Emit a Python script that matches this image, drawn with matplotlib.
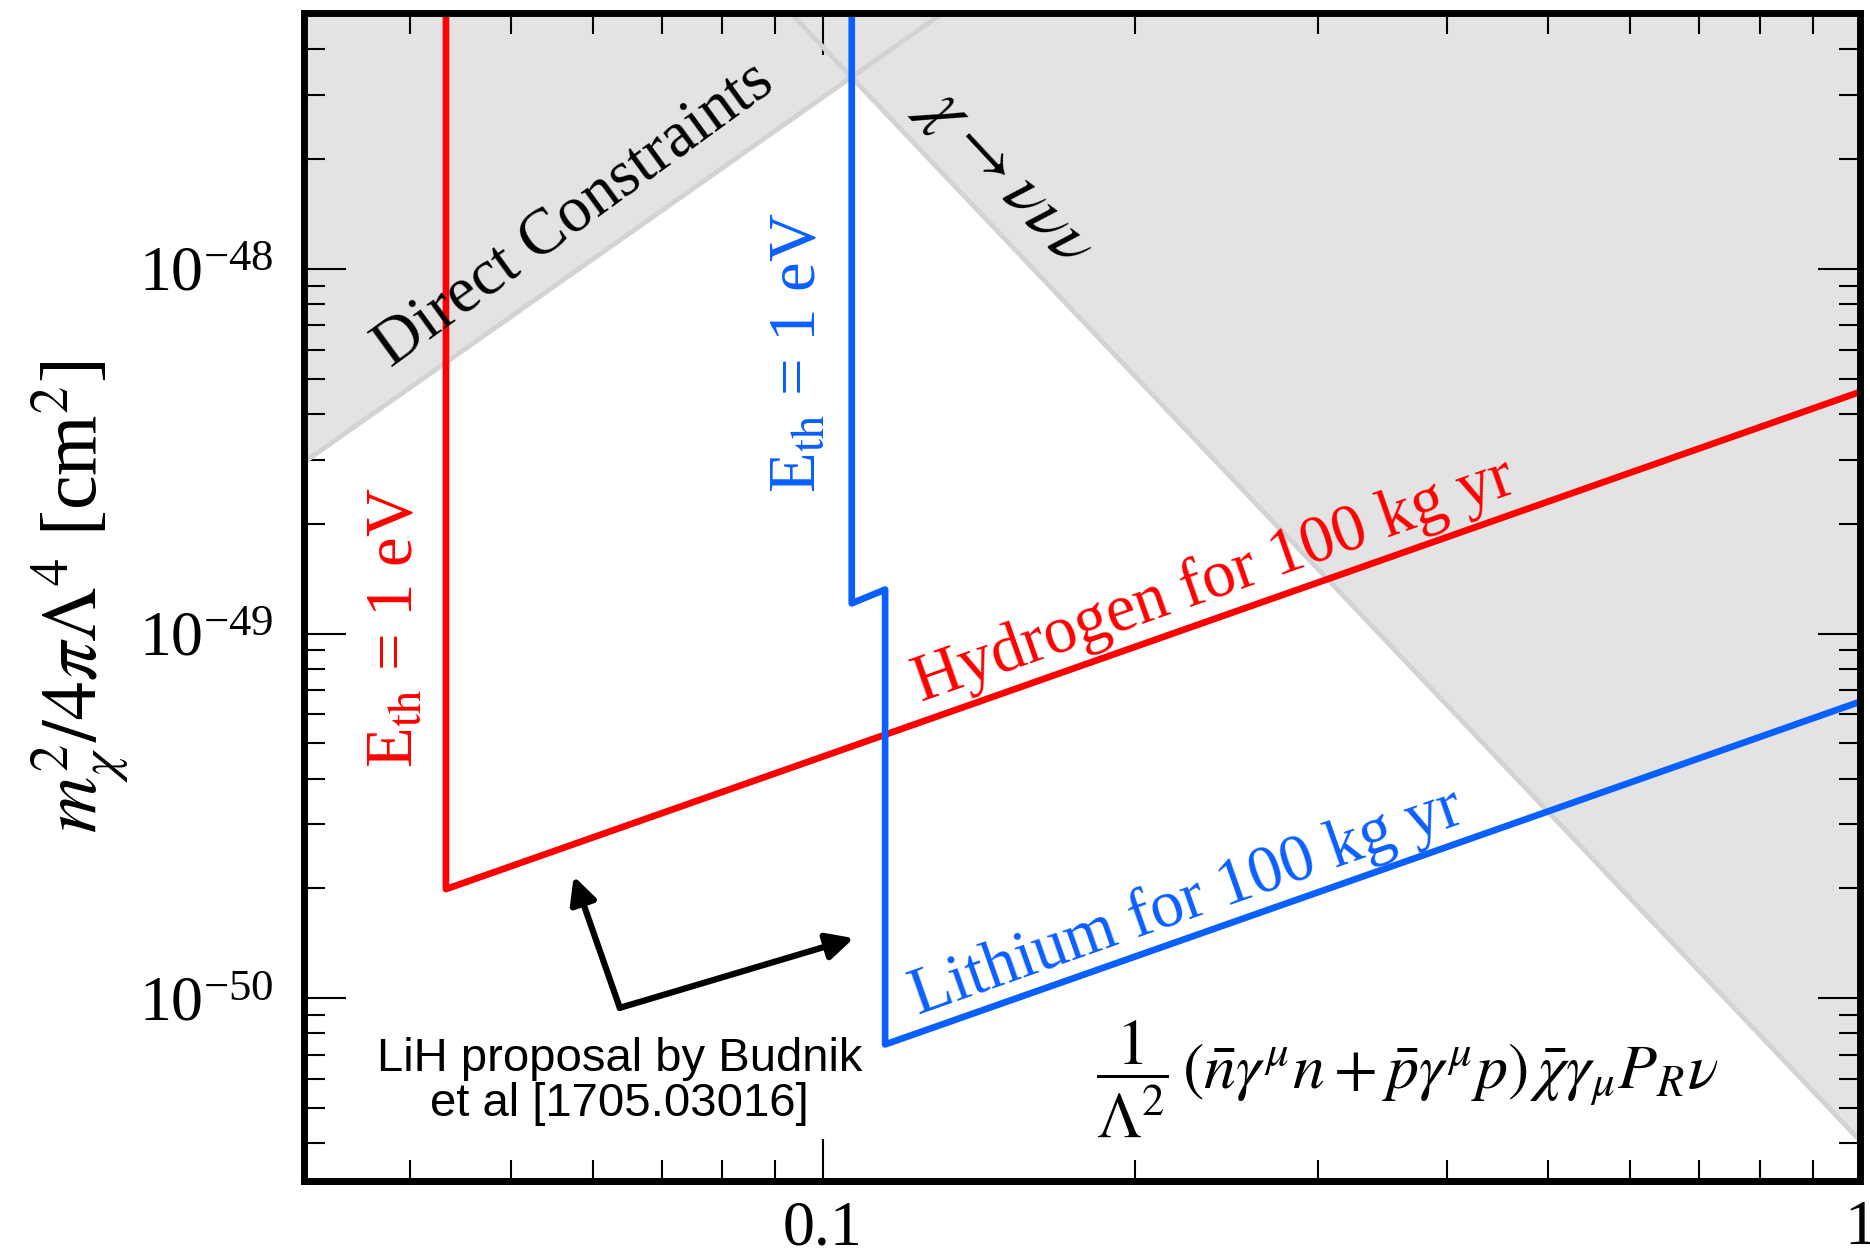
#!/usr/bin/env python3

import matplotlib
matplotlib.use('Agg')
import matplotlib.pyplot as plt
import matplotlib.ticker as mticker

plt.rcParams['font.family'] = ['Liberation Serif', 'DejaVu Serif']
plt.rcParams['mathtext.fontset'] = 'stix'

RED = '#ff0000'
BLUE = '#0a5fff'
GRAY_FILL = '#e3e3e3'
GRAY_EDGE = '#d3d3d3'

# hydrogen reach (100 kg yr, E_th = 1 eV)
h_x = [0.0433, 0.0433, 1.0]
h_y = [1e-47, 1.99e-50, 4.6e-49]

# lithium reach (100 kg yr, E_th = 1 eV)
li_x = [0.1066, 0.1066, 0.1148, 0.1148, 1.0]
li_y = [1e-47, 1.21e-49, 1.32e-49, 7.46e-51, 6.5e-50]

# direct constraints boundary
dc_x = [0.0316, 0.14]
dc_y = [2.95e-49, 5.8e-48]

# chi -> nu nu nu boundary
dec_x = [0.09, 1.0]
dec_y = [5.57e-48, 4.06e-51]

XLIM = (0.0316, 1.0)
YLIM = (3.15e-51, 5.05e-48)

fig = plt.figure(figsize=(18.7, 12.57), dpi=100)
ax = fig.add_axes([0.1626, 0.0605, 0.8321, 0.9295])
ax.set_xscale('log')
ax.set_yscale('log')

ax.fill_between(dc_x, dc_y, 1e-46, color=GRAY_FILL, lw=0, zorder=1)
ax.fill_between(dec_x, dec_y, 1e-46, color=GRAY_FILL, lw=0, zorder=1)
ax.plot(dc_x, dc_y, color=GRAY_EDGE, lw=3.5, zorder=2)
ax.plot(dec_x, dec_y, color=GRAY_EDGE, lw=3.5, zorder=2)

ax.plot(h_x, h_y, color=RED, lw=4.8, zorder=4)
ax.plot(li_x, li_y, color=BLUE, lw=4.8, zorder=4)

ax.set_xlim(*XLIM)
ax.set_ylim(*YLIM)

# labels on the plot
ax.text(0.0575, 1.41e-48, 'Direct Constraints', fontsize=47, rotation=36,
        ha='center', va='center', zorder=5)
ax.text(0.1496, 1.79e-48, r'$\chi\rightarrow\nu\nu\nu$', fontsize=50, rotation=-47,
        ha='center', va='center', zorder=5)
ax.text(0.0387, 1.04e-49, r'E$_{\rm th}$ = 1 eV', fontsize=48, rotation=90,
        color=RED, ha='center', va='center', zorder=5)
ax.text(0.0948, 5.9e-49, r'E$_{\rm th}$ = 1 eV', fontsize=48, rotation=90,
        color=BLUE, ha='center', va='center', zorder=5)
ax.text(0.238, 1.40e-49, 'Hydrogen for 100 kg yr', fontsize=48, rotation=19.4,
        color=RED, ha='center', va='center', zorder=5)
ax.text(0.224, 1.83e-50, 'Lithium for 100 kg yr', fontsize=48, rotation=19.4,
        color=BLUE, ha='center', va='center', zorder=5)
ax.text(0.366, 6.0e-51,
        r'$\dfrac{1}{\Lambda^2}\,(\bar{n}\gamma^\mu n+\bar{p}\gamma^\mu p)\,'
        r'\bar{\chi}\gamma_\mu P_R\nu$',
        fontsize=46, ha='center', va='center', zorder=5)

ax.text(0.0637, 5.9e-51, 'LiH proposal by Budnik\net al [1705.03016]',
        family='Liberation Sans', fontsize=34, ha='center', va='center',
        linespacing=1.05, zorder=5)
arrow = dict(arrowstyle='-|>', color='black', lw=4.5, mutation_scale=40,
             shrinkA=0, shrinkB=0)
ax.annotate('', xy=(0.0575, 2.16e-50), xytext=(0.0637, 9.4e-51),
            arrowprops=arrow, zorder=5)
ax.annotate('', xy=(0.1071, 1.46e-50), xytext=(0.0637, 9.4e-51),
            arrowprops=arrow, zorder=5)

# axes styling
for sp in ax.spines.values():
    sp.set_linewidth(5)
    sp.set_zorder(6)

ax.xaxis.set_major_locator(mticker.FixedLocator([0.1, 1.0]))
ax.xaxis.set_major_formatter(mticker.FixedFormatter(['0.1', '1']))
ax.xaxis.set_minor_locator(mticker.LogLocator(base=10, subs=range(2, 10)))
ax.xaxis.set_minor_formatter(mticker.NullFormatter())
ax.yaxis.set_major_locator(mticker.LogLocator(base=10, numticks=10))
ax.yaxis.set_minor_locator(mticker.LogLocator(base=10, subs=range(2, 10), numticks=10))
ax.yaxis.set_minor_formatter(mticker.NullFormatter())

ax.tick_params(which='both', direction='in', top=True, right=True, width=1.5)
ax.tick_params(which='major', length=30, labelsize=46)
ax.tick_params(which='minor', length=15)
ax.tick_params(axis='x', which='major', pad=14)
ax.tick_params(axis='y', which='major', pad=22)

ax.set_ylabel(r'$m_\chi^2/4\pi\Lambda^4$ [cm$^2$]', fontsize=56)
ax.yaxis.set_label_coords(-0.112, 0.5)

fig.savefig('out.png', dpi=100)
